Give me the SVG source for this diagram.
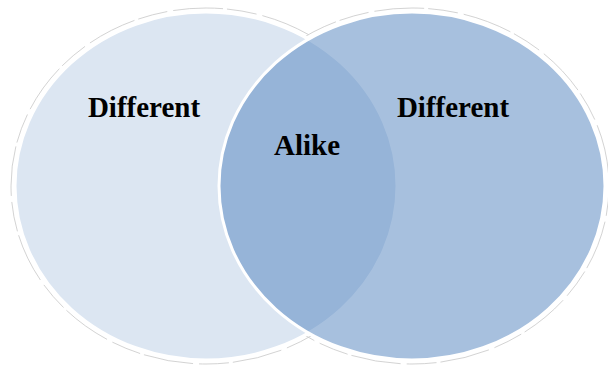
<svg xmlns="http://www.w3.org/2000/svg" width="608" height="367" viewBox="0 0 608 367">
<style>
.halo{fill:none;stroke:#c8c8c8;stroke-width:1;stroke-dasharray:30 6 50 4;opacity:0.8}
.back{fill:#ffffff}
.circ{stroke:#ffffff;stroke-width:3}
.lbl{font-family:"Liberation Serif","Times New Roman",serif;font-weight:bold;font-size:29px;fill:#000;text-anchor:middle}
</style>
<rect width="608" height="367" fill="#ffffff"/>
<g id="halos">
<ellipse class="halo" cx="206" cy="186" rx="195" ry="178"/>
<ellipse class="halo" cx="412" cy="186" rx="197" ry="178"/>
<ellipse class="back" cx="206" cy="186" rx="193" ry="176"/>
<ellipse class="back" cx="412" cy="186" rx="195" ry="176"/>
</g>
<g id="left-set">
<ellipse class="circ" cx="206" cy="186" rx="191" ry="174" fill="#dce6f2"/>
</g>
<g id="right-set">
<ellipse class="circ" cx="412" cy="186" rx="193" ry="174" fill="#4f81bd" fill-opacity="0.5"/>
</g>
<g id="labels">
<text class="lbl" x="144" y="117">Different</text>
<text class="lbl" x="453" y="117">Different</text>
<text class="lbl" x="307" y="155">Alike</text>
</g>
<g id="connectors"/>
</svg>
